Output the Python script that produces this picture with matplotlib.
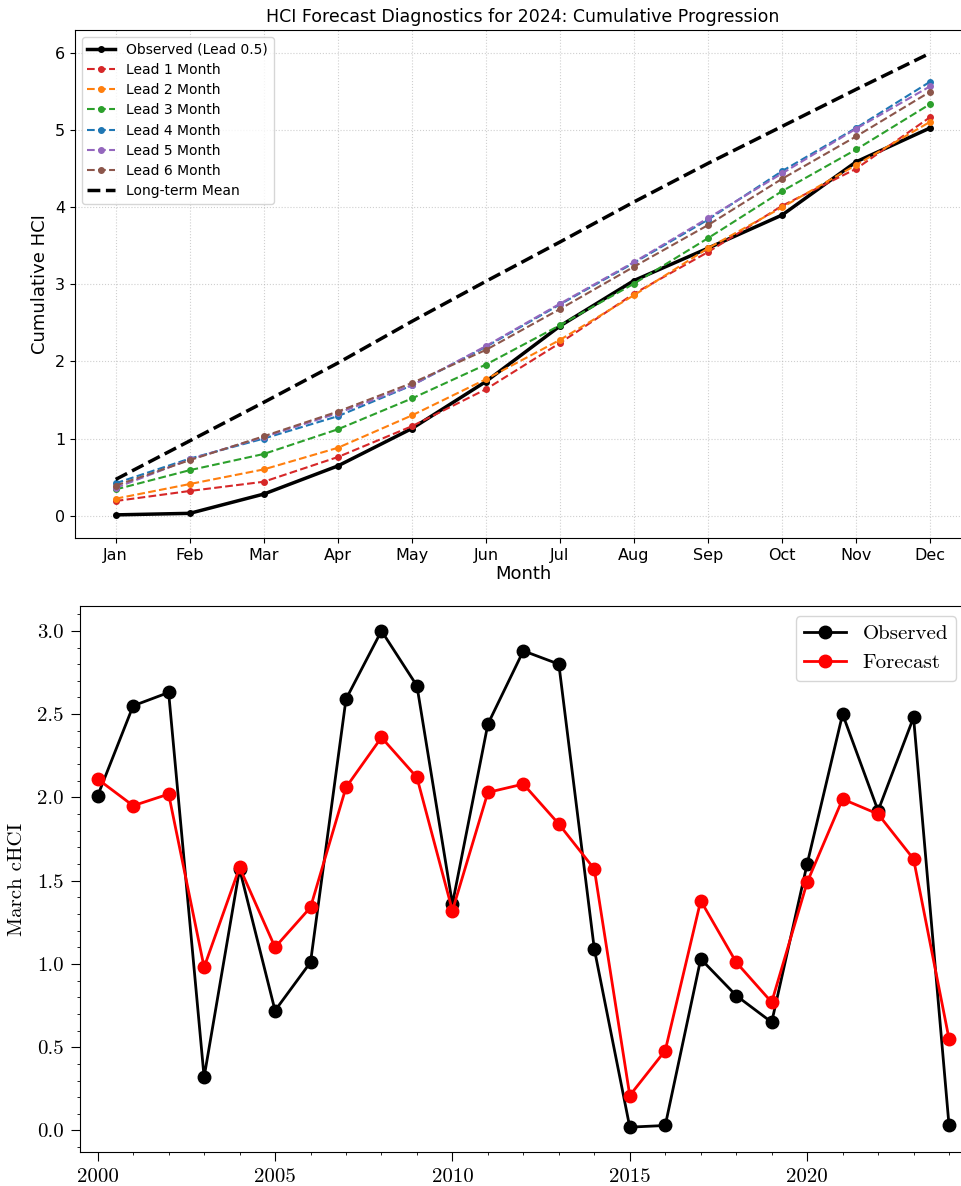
import matplotlib
matplotlib.use('Agg')
import matplotlib.pyplot as plt
from matplotlib.ticker import MultipleLocator

# ============================================
# DATA
# ============================================

months = ['Jan', 'Feb', 'Mar', 'Apr', 'May', 'Jun',
          'Jul', 'Aug', 'Sep', 'Oct', 'Nov', 'Dec']

observed = [0.01, 0.03, 0.28, 0.645, 1.13, 1.74, 2.46, 3.05, 3.47, 3.90, 4.59, 5.03]
lead1 = [0.19, 0.32, 0.44, 0.76, 1.16, 1.64, 2.24, 2.88, 3.42, 4.02, 4.50, 5.17]
lead2 = [0.22, 0.41, 0.60, 0.88, 1.30, 1.77, 2.28, 2.86, 3.47, 4.00, 4.55, 5.11]
lead3 = [0.34, 0.59, 0.80, 1.12, 1.52, 1.96, 2.47, 3.01, 3.60, 4.21, 4.75, 5.34]
lead4 = [0.42, 0.74, 1.00, 1.29, 1.69, 2.19, 2.74, 3.28, 3.84, 4.47, 5.03, 5.63]
lead5 = [0.36, 0.73, 1.02, 1.33, 1.69, 2.20, 2.75, 3.29, 3.86, 4.44, 5.02, 5.57]
lead6 = [0.39, 0.72, 1.03, 1.35, 1.72, 2.15, 2.68, 3.23, 3.77, 4.37, 4.92, 5.50]
lt_mean = [0.47, 0.97, 1.47, 1.98, 2.52, 3.04, 3.55, 4.07, 4.57, 5.05, 5.53, 6.00]

lead_series = [lead1, lead2, lead3, lead4, lead5, lead6]
lead_colors = ['tab:red', 'tab:orange', 'tab:green', 'tab:blue', 'tab:purple', 'tab:brown']

years = list(range(2000, 2025))
march_obs = [2.01, 2.55, 2.63, 0.32, 1.57, 0.72, 1.01, 2.59, 3.00, 2.67,
             1.36, 2.44, 2.88, 2.80, 1.09, 0.02, 0.03, 1.03, 0.81, 0.65,
             1.60, 2.50, 1.92, 2.48, 0.03]
march_fc = [2.11, 1.95, 2.02, 0.98, 1.58, 1.10, 1.34, 2.06, 2.36, 2.12,
            1.32, 2.03, 2.08, 1.84, 1.57, 0.21, 0.48, 1.38, 1.01, 0.77,
            1.49, 1.99, 1.90, 1.63, 0.55]

# ============================================
# PLOTTING
# ============================================

fig = plt.figure(figsize=(9.61, 11.86), dpi=100)

# --- top panel: cumulative progression ---
ax1 = fig.add_axes([0.078, 0.5464, 0.9324, 0.4283])
x = range(len(months))

ax1.plot(x, observed, color='black', lw=2.5, marker='o', markersize=4,
         label='Observed (Lead 0.5)')
for i, (vals, col) in enumerate(zip(lead_series, lead_colors)):
    ax1.plot(x, vals, color=col, lw=1.5, ls='--', marker='o', markersize=4,
             label=f'Lead {i + 1} Month')
ax1.plot(x, lt_mean, color='black', lw=2.5, ls='--', label='Long-term Mean')

ax1.set_xticks(list(x))
ax1.set_xticklabels(months)
ax1.tick_params(labelsize=11.5)
ax1.set_xlabel('Month', fontsize=13, labelpad=2)
ax1.set_ylabel('Cumulative HCI', fontsize=13)
ax1.set_title('HCI Forecast Diagnostics for 2024: Cumulative Progression', fontsize=12.5)
ax1.grid(True, linestyle=':', alpha=0.6)
ax1.legend(loc='upper left', fontsize=10, labelspacing=0.45)

# --- bottom panel: March cHCI ---
ax2 = fig.add_axes([0.0832, 0.0287, 0.9228, 0.4603])
ax2.plot(years, march_obs, color='black', lw=2, marker='o', markersize=9, label='Observed')
ax2.plot(years, march_fc, color='red', lw=2, marker='o', markersize=9, label='Forecast')

ax2.set_xlim(1999.5, 2024.5)
ax2.xaxis.set_major_locator(MultipleLocator(5))
ax2.xaxis.set_minor_locator(MultipleLocator(1))
ax2.yaxis.set_major_locator(MultipleLocator(0.5))
ax2.yaxis.set_minor_locator(MultipleLocator(0.1))
ax2.yaxis.set_major_formatter(plt.FormatStrFormatter('%.1f'))
ax2.tick_params(which='major', length=6.5, pad=5, labelsize=15, labelfontfamily='cmr10')
ax2.tick_params(which='minor', length=2.5)
ax2.set_ylabel('March cHCI', fontsize=15, fontfamily='cmr10', labelpad=8)
leg = ax2.legend(loc='upper right', prop={'family': 'cmr10', 'size': 15})

plt.savefig('out.png', dpi=100, facecolor='white')
